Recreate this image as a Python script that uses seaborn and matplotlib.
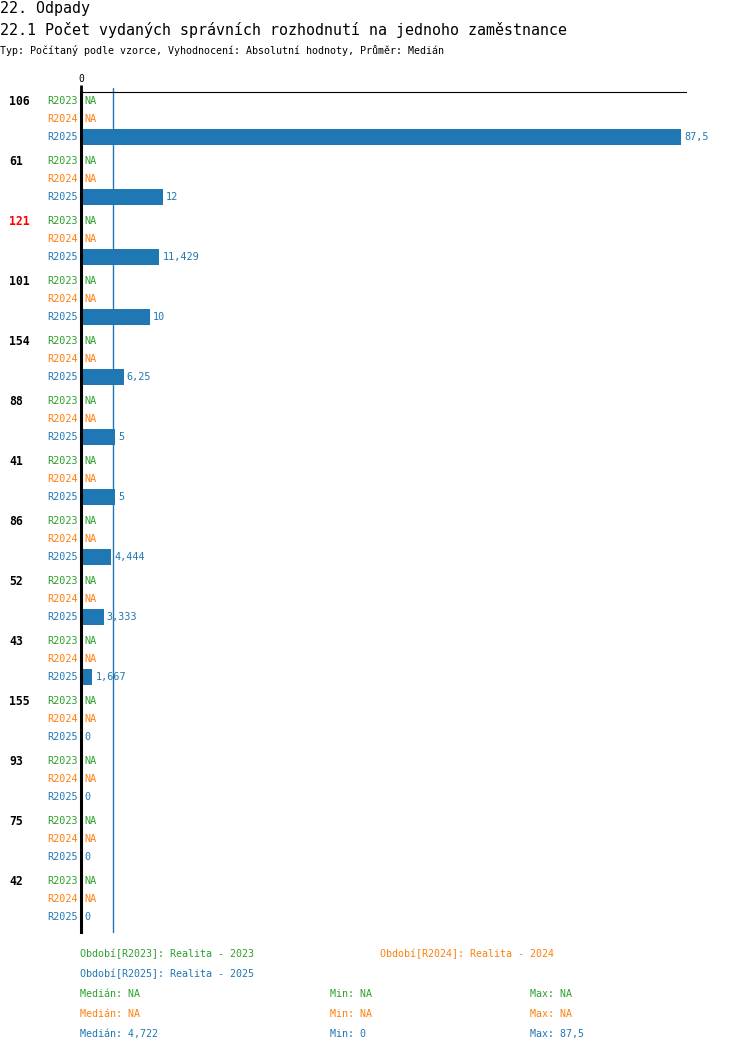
import numpy as np
import pandas as pd
import seaborn as sns
import matplotlib.pyplot as plt

# data
groups = ['106', '61', '121', '101', '154', '88', '41', '86', '52', '43', '155', '93', '75', '42']
highlight = '121'
periods = ['R2023', 'R2024', 'R2025']
r2023 = [None] * 14
r2024 = [None] * 14
r2025 = [87.5, 12, 11.429, 10, 6.25, 5, 5, 4.444, 3.333, 1.667, 0, 0, 0, 0]
median_2025 = 4.722
stats_labels = [('Medián: NA', 'Min: NA', 'Max: NA'),
                ('Medián: NA', 'Min: NA', 'Max: NA'),
                ('Medián: 4,722', 'Min: 0', 'Max: 87,5')]
legend_labels = ['Období[R2023]: Realita - 2023',
                 'Období[R2024]: Realita - 2024',
                 'Období[R2025]: Realita - 2025']
colors = {'R2023': '#2ca02c', 'R2024': '#ff7f0e', 'R2025': '#1f77b4'}

W, H = 750, 1052
ROW = 18.0          # px per row
GROUP = 60.0        # px per group
TOP, BOTTOM = 92, 932
X0, X1 = 81, 686
PX_PER_UNIT = 600 / 87.5


def fx(px):
    return px / W


def fy(py):
    return 1 - py / H


def fmt(v):
    return f'{v:g}'.replace('.', ',')


rows = []
for gi, g in enumerate(groups):
    for ri, (p, vals) in enumerate(zip(periods, [r2023, r2024, r2025])):
        v = vals[gi]
        rows.append({'group': g, 'period': p,
                     'pos': gi * GROUP / ROW + ri,
                     'value': np.nan if v is None else v})
df = pd.DataFrame(rows)

sns.set_style('white')
plt.rcParams['font.family'] = ['DejaVu Sans Mono', 'DejaVu Sans']
plt.rcParams['text.color'] = 'black'
plt.rcParams['xtick.color'] = 'black'

fig = plt.figure(figsize=(W / 100, H / 100), dpi=100)
ax = fig.add_axes([fx(X0), fy(BOTTOM), fx(X1) - fx(X0), (BOTTOM - TOP) / H])

sns.barplot(data=df, x='value', y='pos', hue='period', palette=colors,
            orient='h', native_scale=True, dodge=False, errorbar=None,
            width=0.92, legend=False, ax=ax, saturation=1, linewidth=0)

ax.set_xlim(0, (X1 - X0) / PX_PER_UNIT)
ax.set_ylim((BOTTOM - TOP) / ROW - 0.5, -0.5)
ax.set_xlabel('')
ax.set_ylabel('')
ax.set_yticks([])
ax.xaxis.tick_top()
ax.set_xticks([0])
ax.set_xticklabels(['0'])
ax.tick_params(axis='x', length=5, width=2, color='black', pad=1, labelsize=7)
for s in ['right', 'bottom']:
    ax.spines[s].set_visible(False)
ax.spines['left'].set_linewidth(2.2)
ax.spines['left'].set_color('black')
ax.spines['top'].set_linewidth(0.8)
ax.spines['top'].set_color('black')

ax.axvline(median_2025, color=colors['R2025'], lw=1, clip_on=False, ymax=1.005)

for _, r in df.iterrows():
    c = colors[r['period']]
    ax.annotate(r['period'], xy=(0, r['pos']), xytext=(-3, 0),
                textcoords='offset pixels', ha='right', va='center',
                color=c, fontsize=7.3)
    txt = 'NA' if np.isnan(r['value']) else fmt(r['value'])
    ax.annotate(txt, xy=(0 if np.isnan(r['value']) else r['value'], r['pos']),
                xytext=(3, 0), textcoords='offset pixels', ha='left',
                va='center', color=c, fontsize=7.3, annotation_clip=False)

for gi, g in enumerate(groups):
    ax.annotate(g, xy=(0, gi * GROUP / ROW), xycoords=('axes fraction', 'data'),
                xytext=(9 - X0, 0), textcoords='offset pixels', ha='left',
                va='center', fontsize=8.3, fontweight='bold',
                color='#ff0000' if g == highlight else 'black')

fig.text(0, fy(8), '22. Odpady', fontsize=10.8, va='center', ha='left')
fig.text(0, fy(30), '22.1 Počet vydaných správních rozhodnutí na jednoho zaměstnance',
         fontsize=10.8, va='center', ha='left')
fig.text(0, fy(50), 'Typ: Počítaný podle vzorce, Vyhodnocení: Absolutní hodnoty, Průměr: Medián',
         fontsize=7.2, va='center', ha='left')

fig.text(fx(80), fy(954), legend_labels[0], color=colors['R2023'], fontsize=7.2, va='center')
fig.text(fx(380), fy(954), legend_labels[1], color=colors['R2024'], fontsize=7.2, va='center')
fig.text(fx(80), fy(974), legend_labels[2], color=colors['R2025'], fontsize=7.2, va='center')
for i, p in enumerate(periods):
    for xp, lab in zip([80, 330, 530], stats_labels[i]):
        fig.text(fx(xp), fy(994 + 20 * i), lab, color=colors[p], fontsize=7.2, va='center')

fig.savefig('out.png', dpi=100, facecolor='white')
